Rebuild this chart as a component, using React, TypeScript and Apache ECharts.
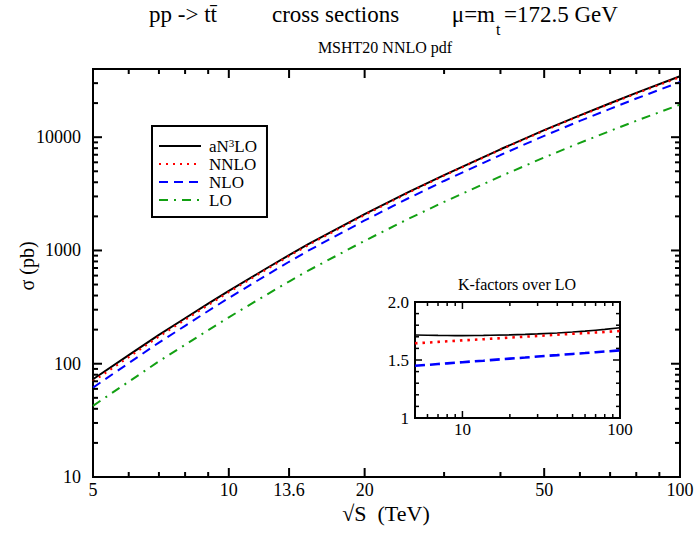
import React, { useEffect, useRef } from "react";
import * as echarts from "echarts";

const FONT = "'Liberation Serif', 'Times New Roman', serif";

// sqrt(S) in TeV
const sqrtS = [5, 6, 7, 8, 9, 10, 12, 13.6, 15, 20, 25, 30, 40, 50, 60, 70, 80, 100];

// cross sections (pb)
const sigmaAN3LO = [73, 119, 180, 252, 339, 439, 679, 910, 1138, 2090, 3270, 4630, 7820, 11530, 15600, 19950, 24600, 34500];
const sigmaNNLO = [69.9, 114.5, 173.9, 244.2, 329.7, 428.9, 665, 893, 1118, 2060, 3232, 4582, 7752, 11431, 15448, 19722, 24294, 33957];
const sigmaNLO = [61.6, 101.2, 153.8, 216.2, 292.2, 380.6, 591.1, 794.8, 995.3, 1840, 2890, 4107, 6958, 10279, 13914, 17792, 21937, 30717];
const sigmaLO = [42.5, 69.4, 105, 147, 198, 257, 397, 532, 664, 1217, 1900, 2684, 4512, 6623, 8919, 11354, 13946, 19404];

// K-factors over LO (inset)
const kAN3LO = [1.716, 1.714, 1.712, 1.711, 1.71, 1.71, 1.711, 1.712, 1.713, 1.717, 1.721, 1.725, 1.733, 1.741, 1.749, 1.757, 1.764, 1.778];
const kNNLO = [1.644, 1.65, 1.656, 1.661, 1.665, 1.669, 1.675, 1.679, 1.683, 1.693, 1.701, 1.707, 1.718, 1.726, 1.732, 1.737, 1.742, 1.75];
const kNLO = [1.45, 1.458, 1.465, 1.471, 1.476, 1.481, 1.489, 1.494, 1.499, 1.512, 1.521, 1.53, 1.542, 1.552, 1.56, 1.567, 1.573, 1.583];

const seriesNames = ["aN3LO", "NNLO", "NLO", "LO"];

// tick values / labels
const mainXMajorTicks = [5, 10, 13.6, 20, 50, 100];
const mainXTickLabels = ["5", "10", "13.6", "20", "50", "100"];
const mainXMinorTicks = [6, 7, 8, 9, 30, 40, 60, 70, 80, 90];
const mainYMajorTicks = [10, 100, 1000, 10000];
const mainYTickLabels = ["10", "100", "1000", "10000"];
const mainYMinorTicks = [20, 30, 40, 50, 60, 70, 80, 90, 200, 300, 400, 500, 600, 700, 800, 900, 2000, 3000, 4000, 5000, 6000, 7000, 8000, 9000, 20000, 30000];

const insetXMajorTicks = [10, 100];
const insetXTickLabels = ["10", "100"];
const insetXMinorTicks = [6, 7, 8, 9, 20, 30, 40, 50, 60, 70, 80, 90];
const insetYMajorTicks = [1, 1.5, 2];
const insetYTickLabels = ["1", "1.5", "2.0"];
const insetYMinorTicks = [1.1, 1.2, 1.3, 1.4, 1.6, 1.7, 1.8, 1.9];

type Tick = { x: number; y: number; axis: "x" | "y"; major: boolean; label?: string };

function buildTicks(
  xMaj: number[], xLab: string[], xMin: number[],
  yMaj: number[], yLab: string[], yMin: number[],
  xAnchor: number, yAnchor: number
): Tick[] {
  const out: Tick[] = [];
  xMaj.forEach((v, i) => out.push({ x: v, y: yAnchor, axis: "x", major: true, label: xLab[i] }));
  xMin.forEach((v) => out.push({ x: v, y: yAnchor, axis: "x", major: false }));
  yMaj.forEach((v, i) => out.push({ x: xAnchor, y: v, axis: "y", major: true, label: yLab[i] }));
  yMin.forEach((v) => out.push({ x: xAnchor, y: v, axis: "y", major: false }));
  return out;
}

type TickCfg = { major: number; minor: number; lw: number; fontSize: number; xGap: number; yGap: number };

function tickRenderer(ticks: Tick[], cfg: TickCfg) {
  return (params: any, api: any) => {
    const t = ticks[params.dataIndex];
    const cs = params.coordSys;
    const pt = api.coord([t.x, t.y]);
    const len = t.major ? cfg.major : cfg.minor;
    const st = { stroke: "#000", lineWidth: cfg.lw };
    const children: any[] = [];
    if (t.axis === "x") {
      const px = pt[0];
      const b = cs.y + cs.height;
      const top = cs.y;
      children.push({ type: "line", shape: { x1: px, y1: b, x2: px, y2: b - len }, style: st });
      children.push({ type: "line", shape: { x1: px, y1: top, x2: px, y2: top + len }, style: st });
      if (t.label) {
        children.push({
          type: "text", x: px, y: b + cfg.xGap,
          style: { text: t.label, textAlign: "center", textVerticalAlign: "top", fontSize: cfg.fontSize, fontFamily: FONT, fill: "#000" },
        });
      }
    } else {
      const py = pt[1];
      const l = cs.x;
      const r = cs.x + cs.width;
      children.push({ type: "line", shape: { x1: l, y1: py, x2: l + len, y2: py }, style: st });
      children.push({ type: "line", shape: { x1: r, y1: py, x2: r - len, y2: py }, style: st });
      if (t.label) {
        children.push({
          type: "text", x: l - cfg.yGap, y: py,
          style: { text: t.label, textAlign: "right", textVerticalAlign: "middle", fontSize: cfg.fontSize, fontFamily: FONT, fill: "#000" },
        });
      }
    }
    return { type: "group", children };
  };
}

export default function App() {
  const ref = useRef<HTMLDivElement>(null);

  useEffect(() => {
    if (!ref.current) return;
    const chart = echarts.init(ref.current, undefined, { renderer: "svg" });

    const mainTicks = buildTicks(mainXMajorTicks, mainXTickLabels, mainXMinorTicks, mainYMajorTicks, mainYTickLabels, mainYMinorTicks, 5, 10);
    const insetTicks = buildTicks(insetXMajorTicks, insetXTickLabels, insetXMinorTicks, insetYMajorTicks, insetYTickLabels, insetYMinorTicks, 5, 1);

    const pair = (ys: number[]) => sqrtS.map((x, i) => [x, ys[i]]);

    const mainStyles = [
      { color: "#000000", width: 2, type: "solid" as any },
      { color: "#ff0000", width: 2.2, type: [2, 5] as any },
      { color: "#0000ff", width: 2, type: [9, 6] as any },
      { color: "#12a012", width: 2, type: [9, 6, 2, 6] as any },
    ];
    const mainData = [sigmaAN3LO, sigmaNNLO, sigmaNLO, sigmaLO];
    const insetData = [kAN3LO, kNNLO, kNLO];
    const insetStyles = [
      { color: "#000000", width: 1.6, type: "solid" as any },
      { color: "#ff0000", width: 2.6, type: [2.5, 5] as any },
      { color: "#0000ff", width: 2.6, type: [10, 5] as any },
    ];

    const axisOff = { axisLine: { show: false }, axisTick: { show: false }, axisLabel: { show: false }, splitLine: { show: false } };

    const option: any = {
      animation: false,
      backgroundColor: "#ffffff",
      textStyle: { fontFamily: FONT },
      grid: [
        { left: 93, top: 69, width: 587, height: 408, show: true, borderColor: "#000", borderWidth: 2, backgroundColor: "transparent" },
        { left: 415, top: 302, width: 205, height: 116, show: true, borderColor: "#000", borderWidth: 2, backgroundColor: "#ffffff", z: 5 },
      ],
      xAxis: [
        { type: "log", logBase: 10, min: 5, max: 100, gridIndex: 0, ...axisOff },
        { type: "log", logBase: 10, min: 5, max: 100, gridIndex: 1, ...axisOff },
      ],
      yAxis: [
        { type: "log", logBase: 10, min: 10, max: 40000, gridIndex: 0, ...axisOff },
        { type: "value", min: 1, max: 2, gridIndex: 1, ...axisOff },
      ],
      legend: {
        data: seriesNames,
        orient: "vertical",
        left: 152,
        top: 126,
        itemWidth: 42,
        itemHeight: 14,
        itemGap: 0,
        padding: [11, 10, 8, 6],
        borderColor: "#000",
        borderWidth: 2,
        backgroundColor: "#ffffff",
        selectedMode: false,
        itemStyle: { opacity: 0, borderWidth: 0 },
        formatter: (name: string) => (name === "aN3LO" ? "aN{sup|3}LO" : name),
        textStyle: {
          fontFamily: FONT,
          fontSize: 17,
          lineHeight: 18,
          color: "#000",
          padding: [0, 0, 0, 3],
          rich: {
            sup: { fontFamily: FONT, fontSize: 11, lineHeight: 18, color: "#000", verticalAlign: "top" },
          },
        },
      },
      graphic: [
        { type: "text", x: 149, y: 14, style: { text: "pp -> tt\u0304", font: `23px ${FONT}`, fill: "#000", textAlign: "left", textVerticalAlign: "middle" } },
        { type: "text", x: 272, y: 14, style: { text: "cross sections", font: `23px ${FONT}`, fill: "#000", textAlign: "left", textVerticalAlign: "middle" } },
        { type: "text", x: 495, y: 14, style: { text: "\u03bc=m", font: `23px ${FONT}`, fill: "#000", textAlign: "right", textVerticalAlign: "middle" } },
        { type: "text", x: 496, y: 29, style: { text: "t", font: `16px ${FONT}`, fill: "#000", textAlign: "left", textVerticalAlign: "middle" } },
        { type: "text", x: 504, y: 14, style: { text: "=172.5 GeV", font: `23px ${FONT}`, fill: "#000", textAlign: "left", textVerticalAlign: "middle" } },
        { type: "text", x: 385, y: 47, style: { text: "MSHT20 NNLO pdf", font: `16px ${FONT}`, fill: "#000", textAlign: "center", textVerticalAlign: "middle" } },
        { type: "text", x: 517, y: 284, style: { text: "K-factors over LO", font: `16px ${FONT}`, fill: "#000", textAlign: "center", textVerticalAlign: "middle" } },
        { type: "text", x: 386, y: 513, style: { text: "\u221aS  (TeV)", font: `22px ${FONT}`, fill: "#000", textAlign: "center", textVerticalAlign: "middle" } },
        { type: "text", x: 27, y: 266, rotation: Math.PI / 2, style: { text: "\u03c3 (pb)", font: `20px ${FONT}`, fill: "#000", textAlign: "center", textVerticalAlign: "middle" } },
      ],
      series: [
        ...mainData.map((d, i) => ({
          name: seriesNames[i],
          type: "line",
          xAxisIndex: 0,
          yAxisIndex: 0,
          data: pair(d),
          symbol: "none",
          showSymbol: false,
          color: mainStyles[i].color,
          lineStyle: { ...mainStyles[i], cap: "butt" },
          z: 3,
        })),
        ...insetData.map((d, i) => ({
          name: "inset-" + seriesNames[i],
          type: "line",
          xAxisIndex: 1,
          yAxisIndex: 1,
          data: pair(d),
          symbol: "none",
          showSymbol: false,
          color: insetStyles[i].color,
          lineStyle: { ...insetStyles[i], cap: "butt" },
          z: 6,
        })),
        {
          name: "main-ticks",
          type: "custom",
          xAxisIndex: 0,
          yAxisIndex: 0,
          silent: true,
          clip: false,
          z: 8,
          data: mainTicks.map((t) => [t.x, t.y]),
          renderItem: tickRenderer(mainTicks, { major: 9, minor: 5, lw: 2, fontSize: 18, xGap: 4, yGap: 12 }),
        },
        {
          name: "inset-ticks",
          type: "custom",
          xAxisIndex: 1,
          yAxisIndex: 1,
          silent: true,
          clip: false,
          z: 9,
          data: insetTicks.map((t) => [t.x, t.y]),
          renderItem: tickRenderer(insetTicks, { major: 7, minor: 4, lw: 1.5, fontSize: 17, xGap: 3, yGap: 6 }),
        },
      ],
    };

    chart.setOption(option);
    return () => chart.dispose();
  }, []);

  return <div ref={ref} style={{ position: "absolute", left: 0, top: 0, width: 694, height: 535 }} />;
}
